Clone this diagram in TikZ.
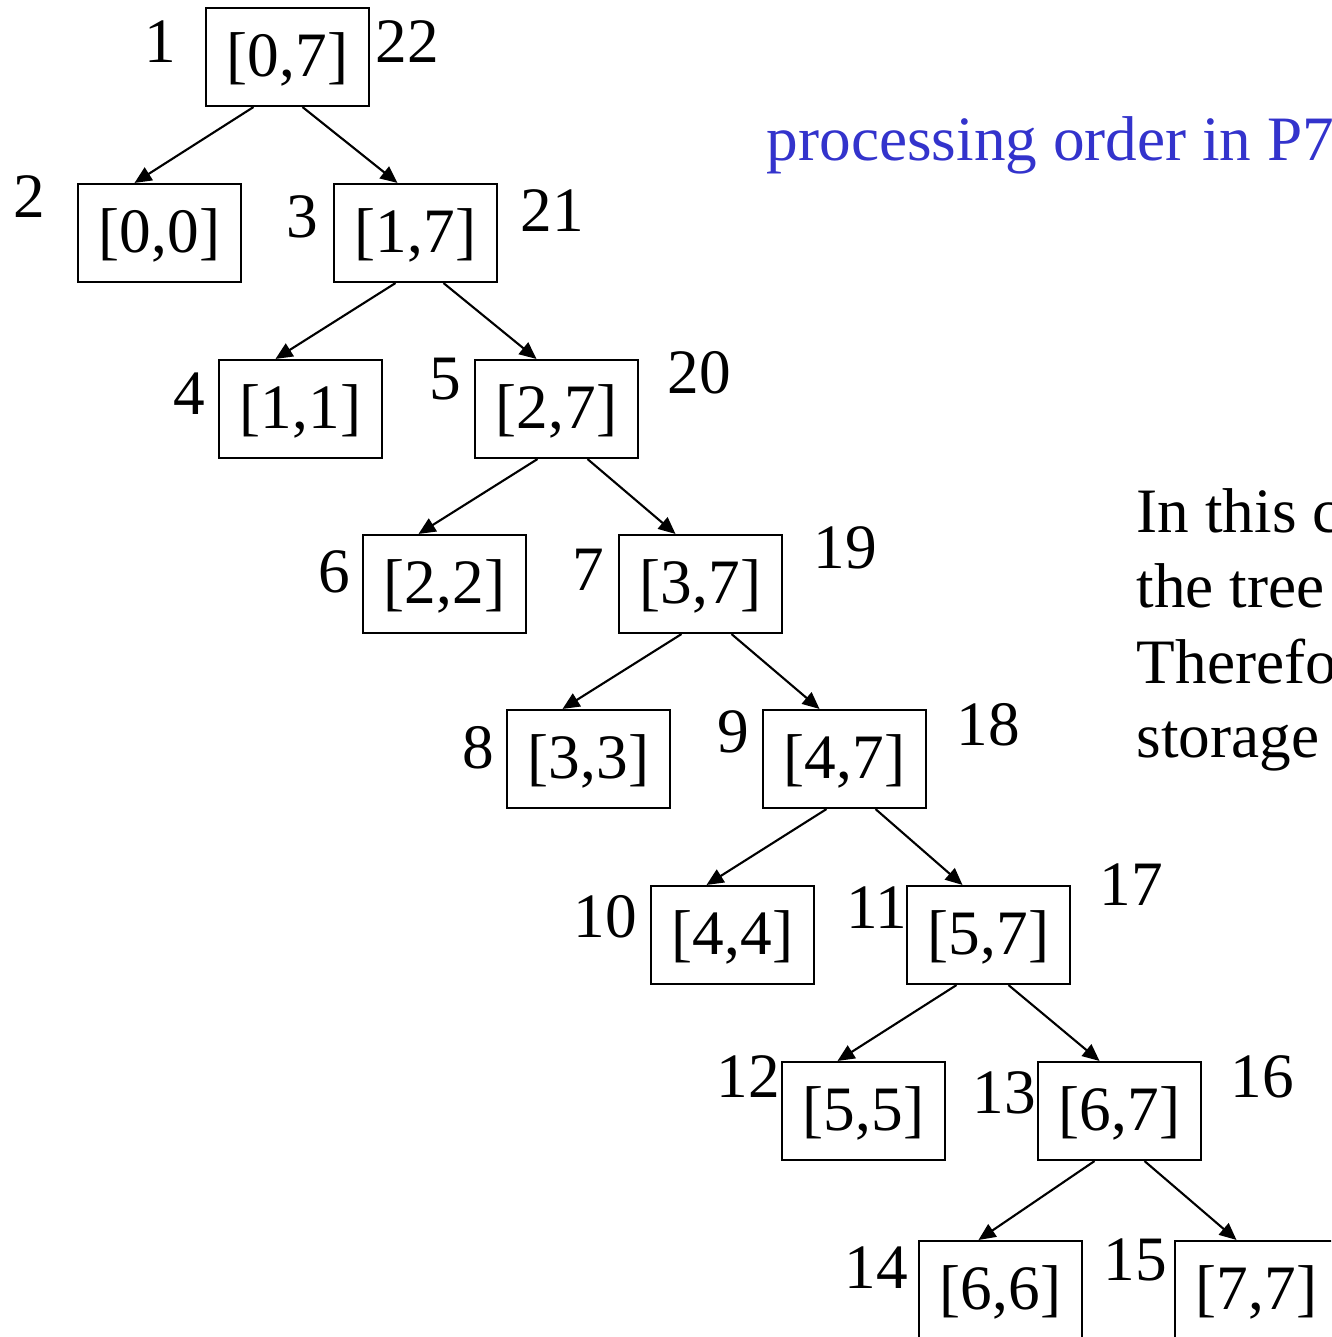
\documentclass[tikz,border=0pt]{standalone}
\usepackage{fontspec}
\setmainfont{Liberation Serif}
\usetikzlibrary{arrows.meta}

\definecolor{ordblue}{RGB}{51,51,204}

\tikzset{
  seg/.style={draw,line width=0.6pt,minimum width=1.63cm,minimum height=0.98cm,
    inner sep=0pt,text height=1.2em,text depth=0.1em},
  edge/.style={line width=0.6pt,-{Triangle[length=1.7mm,width=1.5mm]}}
}

\begin{document}
\begin{tikzpicture}[font=\fontsize{18pt}{21.5pt}\selectfont]

\clip (0,0) rectangle (13.31,-13.37);

% segment tree boxes
\node[seg] (n07) at (2.875,-0.57) {[0,7]};
\node[seg] (n00) at (1.595,-2.33) {[0,0]};
\node[seg] (n17) at (4.155,-2.33) {[1,7]};
\node[seg] (n11) at (3.005,-4.09) {[1,1]};
\node[seg] (n27) at (5.565,-4.09) {[2,7]};
\node[seg] (n22) at (4.445,-5.84) {[2,2]};
\node[seg] (n37) at (7.005,-5.84) {[3,7]};
\node[seg] (n33) at (5.885,-7.59) {[3,3]};
\node[seg] (n47) at (8.445,-7.59) {[4,7]};
\node[seg] (n44) at (7.325,-9.35) {[4,4]};
\node[seg] (n57) at (9.885,-9.35) {[5,7]};
\node[seg] (n55) at (8.635,-11.11) {[5,5]};
\node[seg] (n67) at (11.195,-11.11) {[6,7]};
\node[seg] (n66) at (10.005,-12.90) {[6,6]};
\node[seg] (n77) at (12.565,-12.90) {[7,7]};

% parent/child/start shift/end shift
\foreach \p/\c/\s/\e in {n07/n00/-3.4/-2.5, n07/n17/1.5/-1.8,
    n17/n11/-2.0/-2.5, n17/n27/2.8/-2.0,
    n27/n22/-1.9/-2.6, n27/n37/3.1/-2.5,
    n37/n33/-1.9/-2.6, n37/n47/3.1/-2.5,
    n47/n44/-1.8/-2.6, n47/n57/3.1/-2.6,
    n57/n55/-3.2/-2.6, n57/n67/2.0/-2.0,
    n67/n66/-2.5/-2.2, n67/n77/2.5/-2.0}
  \draw[edge] ([xshift=\s mm]\p.south) -- ([xshift=\e mm]\c.north);

% visiting numbers
\foreach \num/\x/\y in {1/1.60/-0.63, 22/4.07/-0.63, 2/0.29/-2.18, 3/3.02/-2.38,
    21/5.52/-2.32, 4/1.89/-4.15, 5/4.45/-4.00, 20/6.99/-3.93,
    6/3.34/-5.92, 7/5.88/-5.90, 19/8.45/-5.68, 8/4.78/-7.68,
    9/7.33/-7.52, 18/9.88/-7.45, 10/6.05/-9.37, 11/8.77/-9.28,
    17/11.31/-9.05, 12/7.48/-10.97, 13/10.04/-11.13, 16/12.62/-10.97,
    14/8.76/-12.88, 15/11.35/-12.80}
  \node[anchor=base,inner sep=0pt] (l\num) at (\x,\y) {\num};

\node[anchor=base west,inner sep=0pt,text=ordblue] (title) at (7.66,-1.61)
  {processing order in P7};

\node[anchor=base west,inner sep=0pt] (txa) at (11.36,-5.32) {In this c};
\node[anchor=base west,inner sep=0pt] (txb) at (11.36,-6.07) {the tree};
\node[anchor=base west,inner sep=0pt] (txc) at (11.36,-6.83) {Therefo};
\node[anchor=base west,inner sep=0pt] (txd) at (11.36,-7.57) {storage};

\end{tikzpicture}
\end{document}
